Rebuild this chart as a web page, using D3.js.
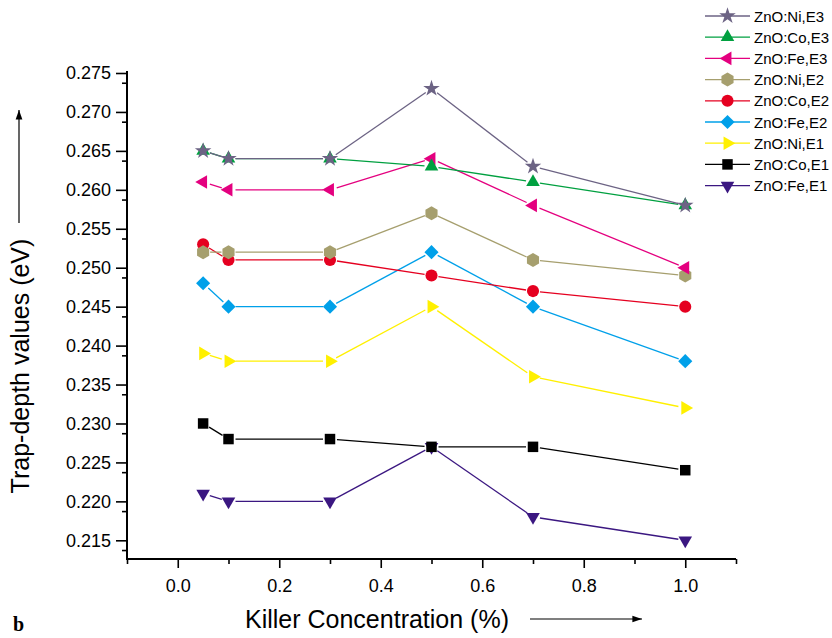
<!DOCTYPE html>
<html lang="en">
<head>
<meta charset="UTF-8">
<title>Trap-depth values</title>
<script src="https://d3js.org/d3.v7.min.js"></script>
<style>
    body { margin: 0; background: #fff; }
    svg { display: block; }
    .ylab { font-family: Arial, 'Liberation Sans', sans-serif; font-size: 18px; }
    .xlab { font-family: Arial, 'Liberation Sans', sans-serif; font-size: 18px; }
</style>
</head>
<body>
<svg id="chart" width="832" height="638"></svg>
<script>
// concentrations (%)
const conc = [0.05, 0.1, 0.3, 0.5, 0.7, 1.0];

const niE3 = [0.265, 0.264, 0.264, 0.273, 0.263, 0.258];
const coE3 = [0.265, 0.264, 0.264, 0.263, 0.261, 0.258];
const feE3 = [0.261, 0.260, 0.260, 0.264, 0.258, 0.250];
const niE2 = [0.252, 0.252, 0.252, 0.257, 0.251, 0.249];
const coE2 = [0.253, 0.251, 0.251, 0.249, 0.247, 0.245];
const feE2 = [0.248, 0.245, 0.245, 0.252, 0.245, 0.238];
const niE1 = [0.239, 0.238, 0.238, 0.245, 0.236, 0.232];
const coE1 = [0.230, 0.228, 0.228, 0.227, 0.227, 0.224];
const feE1 = [0.221, 0.220, 0.220, 0.227, 0.218, 0.215];

const seriesNames = ["ZnO:Ni,E3", "ZnO:Co,E3", "ZnO:Fe,E3", "ZnO:Ni,E2", "ZnO:Co,E2",
                     "ZnO:Fe,E2", "ZnO:Ni,E1", "ZnO:Co,E1", "ZnO:Fe,E1"];
const seriesValues = [niE3, coE3, feE3, niE2, coE2, feE2, niE1, coE1, feE1];
const seriesColors = ["#6c6384", "#00a040", "#e4007f", "#a69f6e", "#e50020",
                      "#00a0e9", "#fff000", "#000000", "#3b1781"];
const seriesShapes = ["star", "up", "left", "hex", "circle", "diamond", "right", "square", "down"];

const xTicks = [0.0, 0.2, 0.4, 0.6, 0.8, 1.0];
const yTicks = [0.215, 0.220, 0.225, 0.230, 0.235, 0.240, 0.245, 0.250, 0.255, 0.260, 0.265, 0.270, 0.275];

const svg = d3.select("#chart");
const mLeft = 127, mBottom = 559, mTop = 73, mRight = 736;

const x = d3.scaleLinear().domain([-0.1, 1.1]).range([mLeft, mRight]);
const y = d3.scaleLinear().domain([0.2126, 0.275]).range([mBottom, mTop]);

// marker paths
function hexPath(r) {
    const pts = d3.range(6).map(i => {
        const a = Math.PI / 6 + i * Math.PI / 3;
        return [r * Math.cos(a), r * Math.sin(a)];
    });
    return "M" + pts.map(p => p.join(",")).join("L") + "Z";
}
function markerPath(shape) {
    const tri = d3.symbol().type(d3.symbolTriangle).size(80)();
    switch (shape) {
        case "star": return { d: d3.symbol().type(d3.symbolStar).size(85)(), rot: 0 };
        case "up": return { d: tri, rot: 0 };
        case "left": return { d: tri, rot: -90 };
        case "right": return { d: tri, rot: 90 };
        case "down": return { d: tri, rot: 180 };
        case "hex": return { d: hexPath(7), rot: 0 };
        case "circle": return { d: d3.symbol().type(d3.symbolCircle).size(115)(), rot: 0 };
        case "diamond": return { d: d3.symbol().type(d3.symbolSquare).size(100)(), rot: 45 };
        case "square": return { d: d3.symbol().type(d3.symbolSquare).size(110)(), rot: 0 };
    }
}

// axes
const yMinorTicks = d3.range(0, 25).map(i => 0.21375 + i * 0.005).filter(v => v <= 0.275);
const yMinor = svg.append("g").attr("transform", `translate(${mLeft},0)`)
    .call(d3.axisLeft(y).tickValues(yMinorTicks).tickSize(5).tickFormat(""));
yMinor.select(".domain").remove();
const yMaj = svg.append("g").attr("transform", `translate(${mLeft},0)`)
    .call(d3.axisLeft(y).tickValues(yTicks).tickSize(11).tickPadding(5).tickFormat(d3.format(".3f")));
yMaj.selectAll("text").attr("class", "ylab").attr("fill", "#000");
yMaj.select(".domain").remove();

const xMinor = svg.append("g").attr("transform", `translate(0,${mBottom})`)
    .call(d3.axisBottom(x).tickValues([-0.1, 0.1, 0.3, 0.5, 0.7, 0.9, 1.1]).tickSize(5).tickFormat(""));
xMinor.select(".domain").remove();
const xMaj = svg.append("g").attr("transform", `translate(0,${mBottom})`)
    .call(d3.axisBottom(x).tickValues(xTicks).tickSize(9).tickPadding(11).tickFormat(d3.format(".1f")));
xMaj.select(".domain").remove();
xMaj.selectAll("text").attr("class", "xlab").attr("fill", "#000");
svg.selectAll("g.tick line").attr("stroke", "#000").attr("stroke-width", 1.6);

svg.append("line").attr("x1", mLeft).attr("x2", mLeft).attr("y1", mTop - 2).attr("y2", mBottom + 1)
    .attr("stroke", "#000").attr("stroke-width", 2);
svg.append("line").attr("x1", mLeft - 1).attr("x2", mRight).attr("y1", mBottom).attr("y2", mBottom)
    .attr("stroke", "#000").attr("stroke-width", 2);

// series, drawn last-first so the first series sits on top
const plot = svg.append("g");
d3.range(seriesNames.length).reverse().forEach(i => {
    const vals = seriesValues[i];
    const col = seriesColors[i];
    const g = plot.append("g");
    const pts = conc.map((c, k) => [x(c), y(vals[k])]);
    const gap = 7;
    for (let k = 0; k < pts.length - 1; k++) {
        const [x1, y1] = pts[k], [x2, y2] = pts[k + 1];
        const len = Math.hypot(x2 - x1, y2 - y1);
        if (len <= 2 * gap) continue;
        const ux = (x2 - x1) / len, uy = (y2 - y1) / len;
        g.append("line")
            .attr("x1", x1 + ux * gap).attr("y1", y1 + uy * gap)
            .attr("x2", x2 - ux * gap).attr("y2", y2 - uy * gap)
            .attr("stroke", col).attr("stroke-width", 1.3);
    }
    const m = markerPath(seriesShapes[i]);
    g.selectAll("path").data(pts).enter().append("path")
        .attr("d", m.d)
        .attr("transform", p => `translate(${p[0]},${p[1]}) rotate(${m.rot})`)
        .attr("fill", col);
});

// legend
const legend = svg.append("g");
seriesNames.forEach((name, i) => {
    const ly = 16 + i * 21.2;
    const col = seriesColors[i];
    legend.append("line").attr("x1", 705).attr("x2", 750).attr("y1", ly).attr("y2", ly)
        .attr("stroke", col).attr("stroke-width", 1.3);
    const m = markerPath(seriesShapes[i]);
    legend.append("path").attr("d", m.d)
        .attr("transform", `translate(727.5,${ly}) rotate(${m.rot})`)
        .attr("fill", col);
    legend.append("text").attr("x", 754).attr("y", ly + 5.5)
        .attr("font-family", "Arial, 'Liberation Sans', sans-serif").attr("font-size", 15)
        .attr("fill", "#000").text(name);
});

// axis titles with arrows
svg.append("text")
    .attr("transform", "translate(29,366) rotate(-90)")
    .attr("text-anchor", "middle")
    .attr("font-family", "Arial, 'Liberation Sans', sans-serif").attr("font-size", 25)
    .text("Trap-depth values (eV)");
svg.append("defs").append("marker").attr("id", "ah")
    .attr("viewBox", "0 0 10 10").attr("refX", 10).attr("refY", 5)
    .attr("markerWidth", 8).attr("markerHeight", 8).attr("orient", "auto")
    .append("path").attr("d", "M0,1.5L10,5L0,8.5Z").attr("fill", "#000");
svg.append("line").attr("x1", 19).attr("x2", 19).attr("y1", 223).attr("y2", 110)
    .attr("stroke", "#000").attr("stroke-width", 1.2).attr("marker-end", "url(#ah)");

svg.append("text")
    .attr("x", 245).attr("y", 628)
    .attr("font-family", "Arial, 'Liberation Sans', sans-serif").attr("font-size", 25)
    .text("Killer Concentration (%)");
svg.append("line").attr("x1", 530).attr("x2", 642).attr("y1", 619).attr("y2", 619)
    .attr("stroke", "#000").attr("stroke-width", 1.2).attr("marker-end", "url(#ah)");

svg.append("text").attr("x", 13).attr("y", 631)
    .attr("font-family", "'Liberation Serif', 'Times New Roman', serif")
    .attr("font-weight", "bold").attr("font-size", 20).text("b");
</script>
</body>
</html>
